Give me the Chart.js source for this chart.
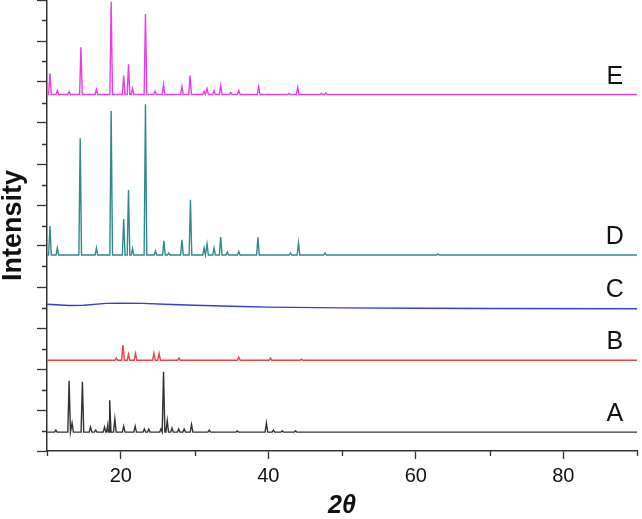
<!DOCTYPE html>
<html lang="en">
<head>
<meta charset="UTF-8">
<title>XRD patterns A-E</title>
<script src="https://cdn.jsdelivr.net/npm/chart.js"></script>
<style>
    body { margin: 0; background: #fff; }
    #wrap { width: 642px; height: 519px; position: relative; }
</style>
</head>
<body>
<div id="wrap"><canvas id="xrd"></canvas></div>
<script>
// 2theta range, y is in "tick" units (one minor y tick = 1)
const xMin = 10, xMax = 90;
const seriesNames = ['A', 'B', 'C', 'D', 'E'];

// stacking offsets of each pattern
const baseA = 0.92, baseB = 4.43, baseD = 9.56, baseE = 17.39;

// A: peak positions (2theta) and heights above its baseline
const peaksA = [11.2, 13.0, 13.4, 14.8, 15.9, 16.6, 17.8, 18.25, 18.5, 19.2, 20.4, 21.95, 23.2, 23.8, 25.45, 25.8, 26.3, 26.95, 27.85, 28.6, 29.6, 32.0, 35.8, 39.75, 40.7, 41.9, 43.7];
const heightsA = [0.1, 2.5, 0.44, 2.46, 0.25, 0.1, 0.25, 0.37, 1.55, 0.64, 0.29, 0.29, 0.15, 0.15, 0.15, 2.95, 0.57, 0.2, 0.15, 0.15, 0.37, 0.1, 0.07, 0.44, 0.1, 0.07, 0.07];

// B
const peaksB = [19.4, 20.3, 21.05, 22.0, 24.5, 25.2, 27.9, 36.0, 40.3, 44.5];
const heightsB = [0.1, 0.74, 0.29, 0.33, 0.34, 0.33, 0.1, 0.15, 0.1, 0.05];

// C: amorphous, broad hump only
const humpX = [10, 13, 15, 18, 20, 23, 26, 30, 35, 40, 50, 60, 70, 90];
const humpY = [7.16, 7.10, 7.11, 7.20, 7.21, 7.20, 7.16, 7.11, 7.06, 7.02, 6.98, 6.96, 6.95, 6.94];

// D
const peaksD = [10.4, 11.4, 14.5, 16.7, 18.7, 20.4, 21.05, 21.6, 23.35, 24.7, 25.85, 26.5, 28.3, 29.45, 31.3, 31.7, 32.65, 33.55, 34.45, 36.0, 38.6, 43.0, 44.1, 47.7, 63.0];
const heightsD = [1.42, 0.34, 5.70, 0.34, 7.02, 1.75, 3.17, 0.32, 7.35, 0.2, 0.69, 0.1, 0.74, 2.70, 0.34, 0.54, 0.34, 0.88, 0.15, 0.17, 0.86, 0.1, 0.59, 0.1, 0.05];

// E
const peaksE = [10.4, 11.4, 13.0, 14.6, 16.7, 18.7, 20.4, 21.05, 21.6, 23.35, 24.65, 25.8, 28.3, 29.4, 31.3, 31.7, 32.65, 33.55, 34.9, 36.0, 38.7, 42.8, 44.0, 47.2, 47.8];
const heightsE = [1.02, 0.2, 0.15, 2.31, 0.25, 4.52, 0.93, 1.47, 0.29, 3.93, 0.16, 0.49, 0.39, 0.93, 0.15, 0.29, 0.2, 0.44, 0.1, 0.2, 0.38, 0.05, 0.34, 0.05, 0.07];

const axisColor = '#333';
const fontFam = 'Arial, "Liberation Sans", sans-serif';

// turn a peak list into a line: flat baseline with narrow sharp peaks
function peakLine(base, pos, hts) {
    const pts = [{x: xMin, y: base}];
    pos.forEach((p, i) => {
        pts.push({x: p - 0.18, y: base}, {x: p, y: base + hts[i]}, {x: p + 0.18, y: base});
    });
    pts.push({x: xMax, y: base});
    return pts.sort((a, b) => a.x - b.x);
}

function ds(data, color) {
    return { data: data, borderColor: color, borderWidth: 1.4, pointRadius: 0, tension: 0, fill: false };
}

// where the A..E captions sit (data coords)
const captionX = 87;
const captionY = [1.82, 5.30, 7.86, 10.44, 18.25];

const extras = {
    id: 'extras',
    afterDraw(chart) {
        const {ctx, scales: {x, y}} = chart;
        ctx.save();
        ctx.strokeStyle = axisColor;
        ctx.lineWidth = 1.3;
        ctx.beginPath();
        // short (minor) ticks
        for (let v = 1; v <= 21; v += 2) {
            const py = Math.round(y.getPixelForValue(v)) + 0.5;
            ctx.moveTo(x.left - 5, py);
            ctx.lineTo(x.left, py);
        }
        for (let v = 10; v <= 90; v += 20) {
            const px = Math.round(x.getPixelForValue(v)) + 0.5;
            ctx.moveTo(px, y.bottom);
            ctx.lineTo(px, y.bottom + 5);
        }
        ctx.stroke();

        ctx.fillStyle = '#111';
        ctx.font = '25px ' + fontFam;
        ctx.textAlign = 'center';
        ctx.textBaseline = 'middle';
        seriesNames.forEach((n, i) => {
            ctx.fillText(n, x.getPixelForValue(captionX), y.getPixelForValue(captionY[i]));
        });
        ctx.restore();
    }
};

new Chart(document.getElementById('xrd'), {
    type: 'line',
    data: {
        datasets: [
            ds(peakLine(baseA, peaksA, heightsA), '#333333'),
            ds(peakLine(baseB, peaksB, heightsB), '#e84444'),
            ds(humpX.map((v, i) => ({x: v, y: humpY[i]})), '#3b3bdc'),
            ds(peakLine(baseD, peaksD, heightsD), '#2e8b8b'),
            ds(peakLine(baseE, peaksE, heightsE), '#ea3cea')
        ]
    },
    options: {
        responsive: true,
        maintainAspectRatio: false,
        animation: false,
        layout: { padding: { left: 0, right: 1, top: 0, bottom: 0 } },
        plugins: { legend: { display: false }, tooltip: { enabled: false } },
        scales: {
            x: {
                type: 'linear',
                min: xMin,
                max: xMax,
                border: { color: axisColor, width: 1.5 },
                grid: {
                    drawOnChartArea: false,
                    tickLength: 8,
                    tickWidth: 1.3,
                    tickColor: c => (c.tick && c.tick.value % 20 === 0) ? axisColor : 'transparent'
                },
                ticks: {
                    stepSize: 10,
                    autoSkip: false,
                    maxRotation: 0,
                    padding: 5,
                    color: '#111',
                    font: { family: fontFam, size: 20 },
                    callback: v => (v % 20 === 0 ? v : '')
                },
                title: {
                    display: true,
                    text: '2θ',
                    color: '#111',
                    font: { family: fontFam, size: 25, weight: 'bold', style: 'italic', lineHeight: 1 },
                    padding: { top: 1, bottom: 0 }
                }
            },
            y: {
                min: 0,
                max: 22,
                border: { color: axisColor, width: 1.5 },
                grid: {
                    drawOnChartArea: false,
                    tickLength: 10,
                    tickWidth: 1.3,
                    tickColor: c => (c.tick && c.tick.value % 2 === 0) ? axisColor : 'transparent'
                },
                ticks: { stepSize: 1, display: false },
                title: {
                    display: true,
                    text: 'Intensity',
                    color: '#111',
                    font: { family: fontFam, size: 27, weight: 'bold', lineHeight: 1 },
                    padding: { top: 0, bottom: 10 }
                }
            }
        }
    },
    plugins: [extras]
});
</script>
</body>
</html>
